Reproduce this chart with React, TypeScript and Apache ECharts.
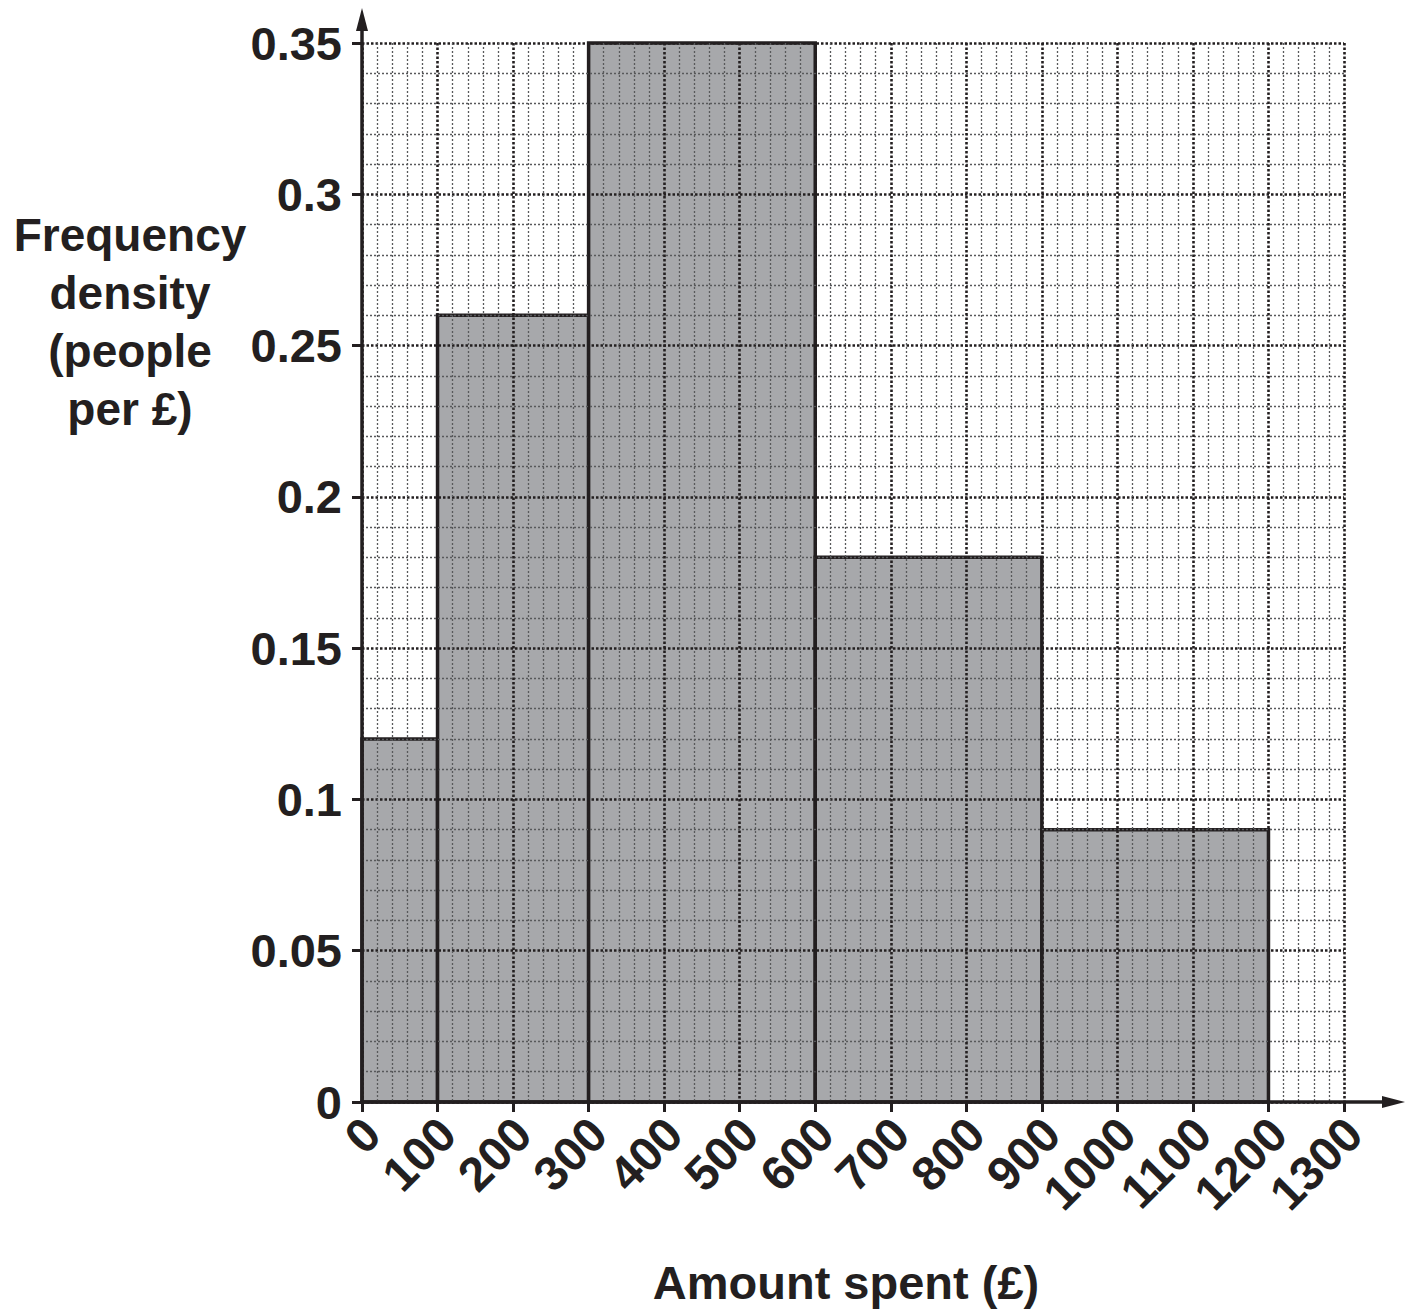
import React, { useEffect, useRef } from "react";
import * as echarts from "echarts";

// Class intervals (lower, upper) and frequency densities
const classStarts = [0, 100, 300, 600, 900];
const classEnds = [100, 300, 600, 900, 1200];
const densities = [0.12, 0.26, 0.35, 0.18, 0.09];

const xTickValues = [0, 100, 200, 300, 400, 500, 600, 700, 800, 900, 1000, 1100, 1200, 1300];
const yTickLabels = ["0", "0.05", "0.1", "0.15", "0.2", "0.25", "0.3", "0.35"];
const yNameLines = ["Frequency", "density", "(people", "per £)"];
const xName = "Amount spent (£)";

const FONT = "Liberation Sans";
const INK = "#231f20";

export default function App() {
  const ref = useRef<HTMLDivElement>(null);
  useEffect(() => {
    document.body.style.margin = "0";
    const chart = echarts.init(ref.current!, null, { renderer: "svg" });
    const gl = 362, gt = 43, gw = 982, gh = 1059;
    const data = classStarts.map((s, i) => [s, classEnds[i], densities[i]]);
    chart.setOption({
      animation: false,
      backgroundColor: "#ffffff",
      grid: { left: gl, top: gt, width: gw, height: gh, containLabel: false },
      xAxis: {
        type: "value",
        min: 0,
        max: 1300,
        interval: 100,
        axisLine: { show: false },
        axisTick: { show: true, inside: false, length: 10, lineStyle: { color: INK, width: 3 } },
        minorTick: { show: false, splitNumber: 5 },
        axisLabel: {
          rotate: 45,
          margin: 14,
          verticalAlign: "top",
          lineHeight: 28,
          fontSize: 48,
          fontWeight: "bold",
          fontFamily: FONT,
          color: INK,
          showMinLabel: true,
          showMaxLabel: true,
          formatter: (v: number) => {
            const i = xTickValues.indexOf(Math.round(v));
            return i >= 0 ? String(xTickValues[i]) : "";
          },
        },
        splitLine: { show: true, lineStyle: { color: INK, width: 2.6, type: [2.5, 2] } },
        minorSplitLine: { show: true, lineStyle: { color: "#58595b", width: 1.3, type: [2, 2] } },
      },
      yAxis: {
        type: "value",
        min: 0,
        max: 0.35,
        interval: 0.05,
        axisLine: { show: false },
        axisTick: { show: true, inside: false, length: 10, lineStyle: { color: INK, width: 3 } },
        minorTick: { show: false, splitNumber: 5 },
        axisLabel: {
          margin: 20,
          fontSize: 47,
          fontWeight: "bold",
          fontFamily: FONT,
          color: INK,
          showMinLabel: true,
          showMaxLabel: true,
          formatter: (v: number) => yTickLabels[Math.round(v / 0.05)] ?? "",
        },
        splitLine: { show: true, lineStyle: { color: INK, width: 2.6, type: [2.5, 2] } },
        minorSplitLine: { show: true, lineStyle: { color: "#58595b", width: 1.3, type: [2, 2] } },
      },
      series: [
        {
          type: "custom",
          z: -1,
          data,
          encode: { x: [0, 1], y: 2 },
          renderItem: (params: any, api: any) => {
            const p0 = api.coord([api.value(0), api.value(2)]);
            const p1 = api.coord([api.value(1), 0]);
            return {
              type: "rect",
              shape: { x: p0[0], y: p0[1], width: p1[0] - p0[0], height: p1[1] - p0[1] },
              style: { fill: "#a7a8ab", stroke: INK, lineWidth: 3.5 },
            };
          },
        },
      ],
      graphic: [
        // y axis with arrow
        { type: "line", z: 100, shape: { x1: gl, y1: gt + gh + 1.5, x2: gl, y2: 20 }, style: { stroke: INK, lineWidth: 3.5 } },
        { type: "polygon", z: 100, shape: { points: [[gl, 8], [gl - 6, 31], [gl + 6, 31]] }, style: { fill: INK } },
        // x axis with arrow
        { type: "line", z: 100, shape: { x1: gl - 1.5, y1: gt + gh, x2: 1390, y2: gt + gh }, style: { stroke: INK, lineWidth: 3.5 } },
        { type: "polygon", z: 100, shape: { points: [[1405, gt + gh], [1382, gt + gh - 6], [1382, gt + gh + 6]] }, style: { fill: INK } },
        // y axis name
        ...yNameLines.map((t, i) => ({
          type: "text",
          z: 100,
          style: {
            text: t,
            x: 130,
            y: 235 + i * 58,
            textAlign: "center",
            textVerticalAlign: "middle",
            fontSize: 46,
            fontWeight: "bold",
            fontFamily: FONT,
            fill: INK,
          },
        })),
        {
          type: "text",
          z: 100,
          style: {
            text: xName,
            x: 846,
            y: 1282,
            textAlign: "center",
            textVerticalAlign: "middle",
            fontSize: 47,
            fontWeight: "bold",
            fontFamily: FONT,
            fill: INK,
          },
        },
      ],
    });
    return () => chart.dispose();
  }, []);
  return <div ref={ref} style={{ width: 1418, height: 1314 }} />;
}
